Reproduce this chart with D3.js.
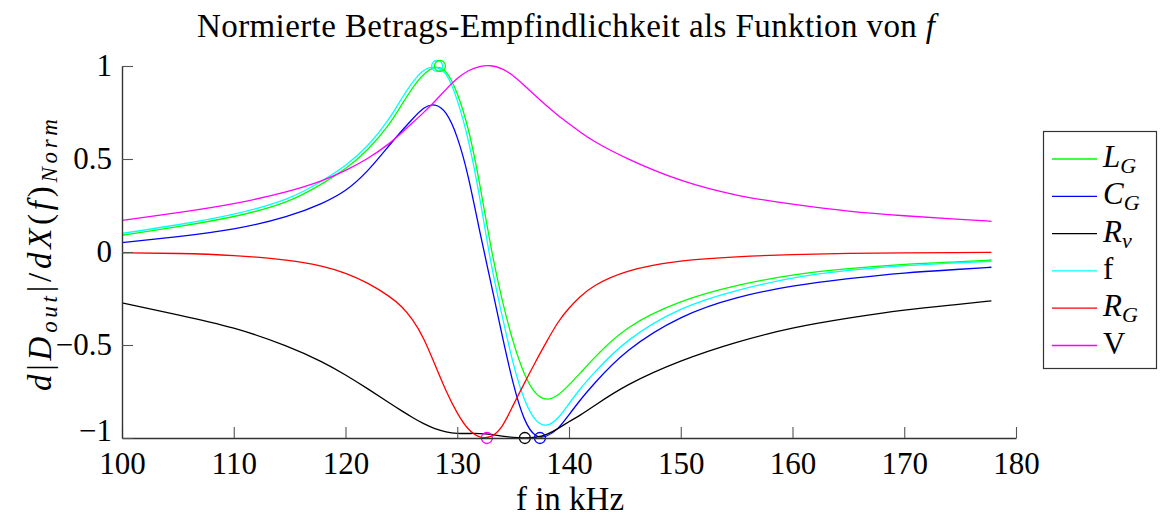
<!DOCTYPE html>
<html><head><meta charset="utf-8">
<script src="https://cdn.jsdelivr.net/npm/d3@7"></script>
<style>
body{margin:0;background:#fff}
svg text{font-family:"Liberation Serif","Times New Roman",serif;fill:#000}
</style></head><body>
<svg id="c" width="1161" height="519"></svg>
<script>
// ---- data ----
const freq = [100,105,110,115,118,120,122,124,125,126,127,128,129,130,131,132,133,134,135,136,137,138,139,140,141,142,145,150,155,160,165,170,175,177.8];
const L_G = [0.090,0.136,0.186,0.265,0.370,0.445,0.545,0.690,0.790,0.885,0.960,1.000,0.985,0.862,0.674,0.378,0.020,-0.260,-0.490,-0.665,-0.770,-0.800,-0.775,-0.715,-0.652,-0.585,-0.400,-0.258,-0.177,-0.120,-0.088,-0.065,-0.052,-0.043];
const C_G = [0.050,0.082,0.118,0.190,0.262,0.324,0.432,0.580,0.650,0.715,0.780,0.800,0.760,0.629,0.414,0.109,-0.160,-0.446,-0.715,-0.915,-1.000,-0.995,-0.955,-0.875,-0.796,-0.724,-0.527,-0.339,-0.240,-0.180,-0.142,-0.111,-0.093,-0.082];
const R_v = [-0.274,-0.337,-0.403,-0.508,-0.592,-0.660,-0.735,-0.815,-0.853,-0.890,-0.924,-0.951,-0.968,-0.976,-0.976,-0.975,-0.980,-0.990,-0.998,-1.000,-0.998,-0.984,-0.950,-0.912,-0.878,-0.838,-0.715,-0.581,-0.482,-0.405,-0.355,-0.310,-0.281,-0.263];
const F_f = [0.100,0.145,0.199,0.280,0.385,0.462,0.565,0.720,0.825,0.915,0.985,1.000,0.975,0.826,0.611,0.306,-0.070,-0.339,-0.608,-0.805,-0.915,-0.942,-0.900,-0.815,-0.735,-0.665,-0.473,-0.294,-0.204,-0.136,-0.097,-0.072,-0.057,-0.050];
const R_G = [-0.004,-0.007,-0.016,-0.043,-0.075,-0.112,-0.165,-0.240,-0.290,-0.360,-0.460,-0.605,-0.750,-0.870,-0.960,-1.000,-1.000,-0.950,-0.823,-0.706,-0.590,-0.482,-0.375,-0.300,-0.240,-0.186,-0.097,-0.043,-0.025,-0.013,-0.007,-0.004,-0.003,-0.002];
const V_v = [0.170,0.211,0.256,0.325,0.383,0.437,0.500,0.585,0.640,0.695,0.750,0.810,0.875,0.935,0.978,1.000,1.005,0.988,0.950,0.895,0.840,0.785,0.735,0.690,0.645,0.602,0.504,0.378,0.301,0.256,0.217,0.194,0.176,0.165];
// extremum markers
const markF = [128.2, 128.45, 132.65, 136.05, 137.4];
const markV = [1, 1, -1, -1, -1];
const markC = ["cyan","green","magenta","black","blue"];

const xTicks = [100,110,120,130,140,150,160,170,180];
const yTicks = [-1,-0.5,0,0.5,1];

const series = [
  {key:"green",  vals:L_G, lab:["L","G"]},
  {key:"blue",   vals:C_G, lab:["C","G"]},
  {key:"black",  vals:R_v, lab:["R","v"]},
  {key:"cyan",   vals:F_f, lab:["f",null]},
  {key:"red",    vals:R_G, lab:["R","G"]},
  {key:"magenta",vals:V_v, lab:["V",null]}
];
const colours = {green:"#00ff00",blue:"#0000ff",black:"#000000",cyan:"#00ffff",red:"#ff0000",magenta:"#ff00ff"};

// ---- drawing ----
const svg = d3.select("#c");
const x = d3.scaleLinear().domain([100,180]).range([122,1016]);
const y = d3.scaleLinear().domain([-1,1]).range([438,66]);

const line = d3.line().x((d,i)=>x(freq[i])).y(d=>y(d)).curve(d3.curveBasis);

const g = svg.append("g");
series.forEach(s=>{
  g.append("path").attr("d", line(s.vals)).attr("fill","none")
   .attr("stroke", colours[s.key]).attr("stroke-width",1.3);
});
markF.forEach((f,i)=>{
  g.append("circle").attr("cx",x(f)).attr("cy",y(markV[i])).attr("r",5.5)
   .attr("fill","none").attr("stroke",colours[markC[i]]).attr("stroke-width",1.3);
});

// axes
const xa = svg.append("g").attr("transform","translate(0,438)")
  .call(d3.axisBottom(x).tickValues(xTicks).tickSizeInner(-11).tickSizeOuter(0).tickPadding(14).tickFormat(d3.format("d")));
const ya = svg.append("g").attr("transform","translate(122,0)")
  .call(d3.axisLeft(y).tickValues(yTicks).tickSizeInner(-11).tickSizeOuter(0).tickPadding(10).tickFormat(d=>d3.format("")(d).replace("-","\u2212")));
[xa,ya].forEach(a=>{
  a.attr("font-family",null);
  a.select(".domain").attr("stroke","#333").attr("stroke-width",1.4);
  a.selectAll(".tick line").attr("stroke","#555").attr("stroke-width",1.1);
  a.selectAll(".tick text").style("font-family",'"Liberation Serif",serif').style("font-size","31px").attr("fill","#000");
});
ya.selectAll(".tick text").filter(d=>d===-1).attr("dy","0.08em");

// title
const t = svg.append("text").attr("x",566).attr("y",37).attr("text-anchor","middle").style("font-size","33px")
  .attr("textLength",738).attr("lengthAdjust","spacing");
t.append("tspan").text("Normierte Betrags-Empfindlichkeit als Funktion von ");
t.append("tspan").style("font-style","italic").text("f");

// x label
svg.append("text").attr("x",570).attr("y",510).attr("text-anchor","middle").style("font-size","33px").text("f in kHz");

// y label
const yl = svg.append("text").attr("transform","translate(51,255) rotate(-90)").attr("text-anchor","middle").style("font-size","33px")
  .attr("textLength",272).attr("lengthAdjust","spacing");
const it = (txt)=>yl.append("tspan").style("font-style","italic").text(txt);
const rm = (txt)=>yl.append("tspan").text(txt);
it("d"); rm("|"); it("D");
yl.append("tspan").style("font-style","italic").style("font-size","23px").attr("dy",6).text("out");
yl.append("tspan").attr("dy",-6).text("|/");
it("dX"); rm("("); it("f"); rm(")");
yl.append("tspan").style("font-style","italic").style("font-size","23px").attr("dy",6).text("Norm");

// legend
const lg = svg.append("g");
lg.append("rect").attr("x",1043.5).attr("y",131.5).attr("width",113).attr("height",237)
  .attr("fill","#fff").attr("stroke","#333").attr("stroke-width",1.2);
series.forEach((s,i)=>{
  const yy = 159 + i*37.3;
  lg.append("line").attr("x1",1052).attr("x2",1097).attr("y1",yy).attr("y2",yy)
    .attr("stroke",colours[s.key]).attr("stroke-width",1.3);
  const tx = lg.append("text").attr("x",1103).attr("y",yy+8).style("font-size","31px");
  const main = tx.append("tspan").text(s.lab[0]);
  if (s.lab[1]!==null) {
    main.style("font-style","italic");
    tx.append("tspan").style("font-style","italic").style("font-size","22px").attr("dy",6).text(s.lab[1]);
  }
});
</script>
</body></html>
